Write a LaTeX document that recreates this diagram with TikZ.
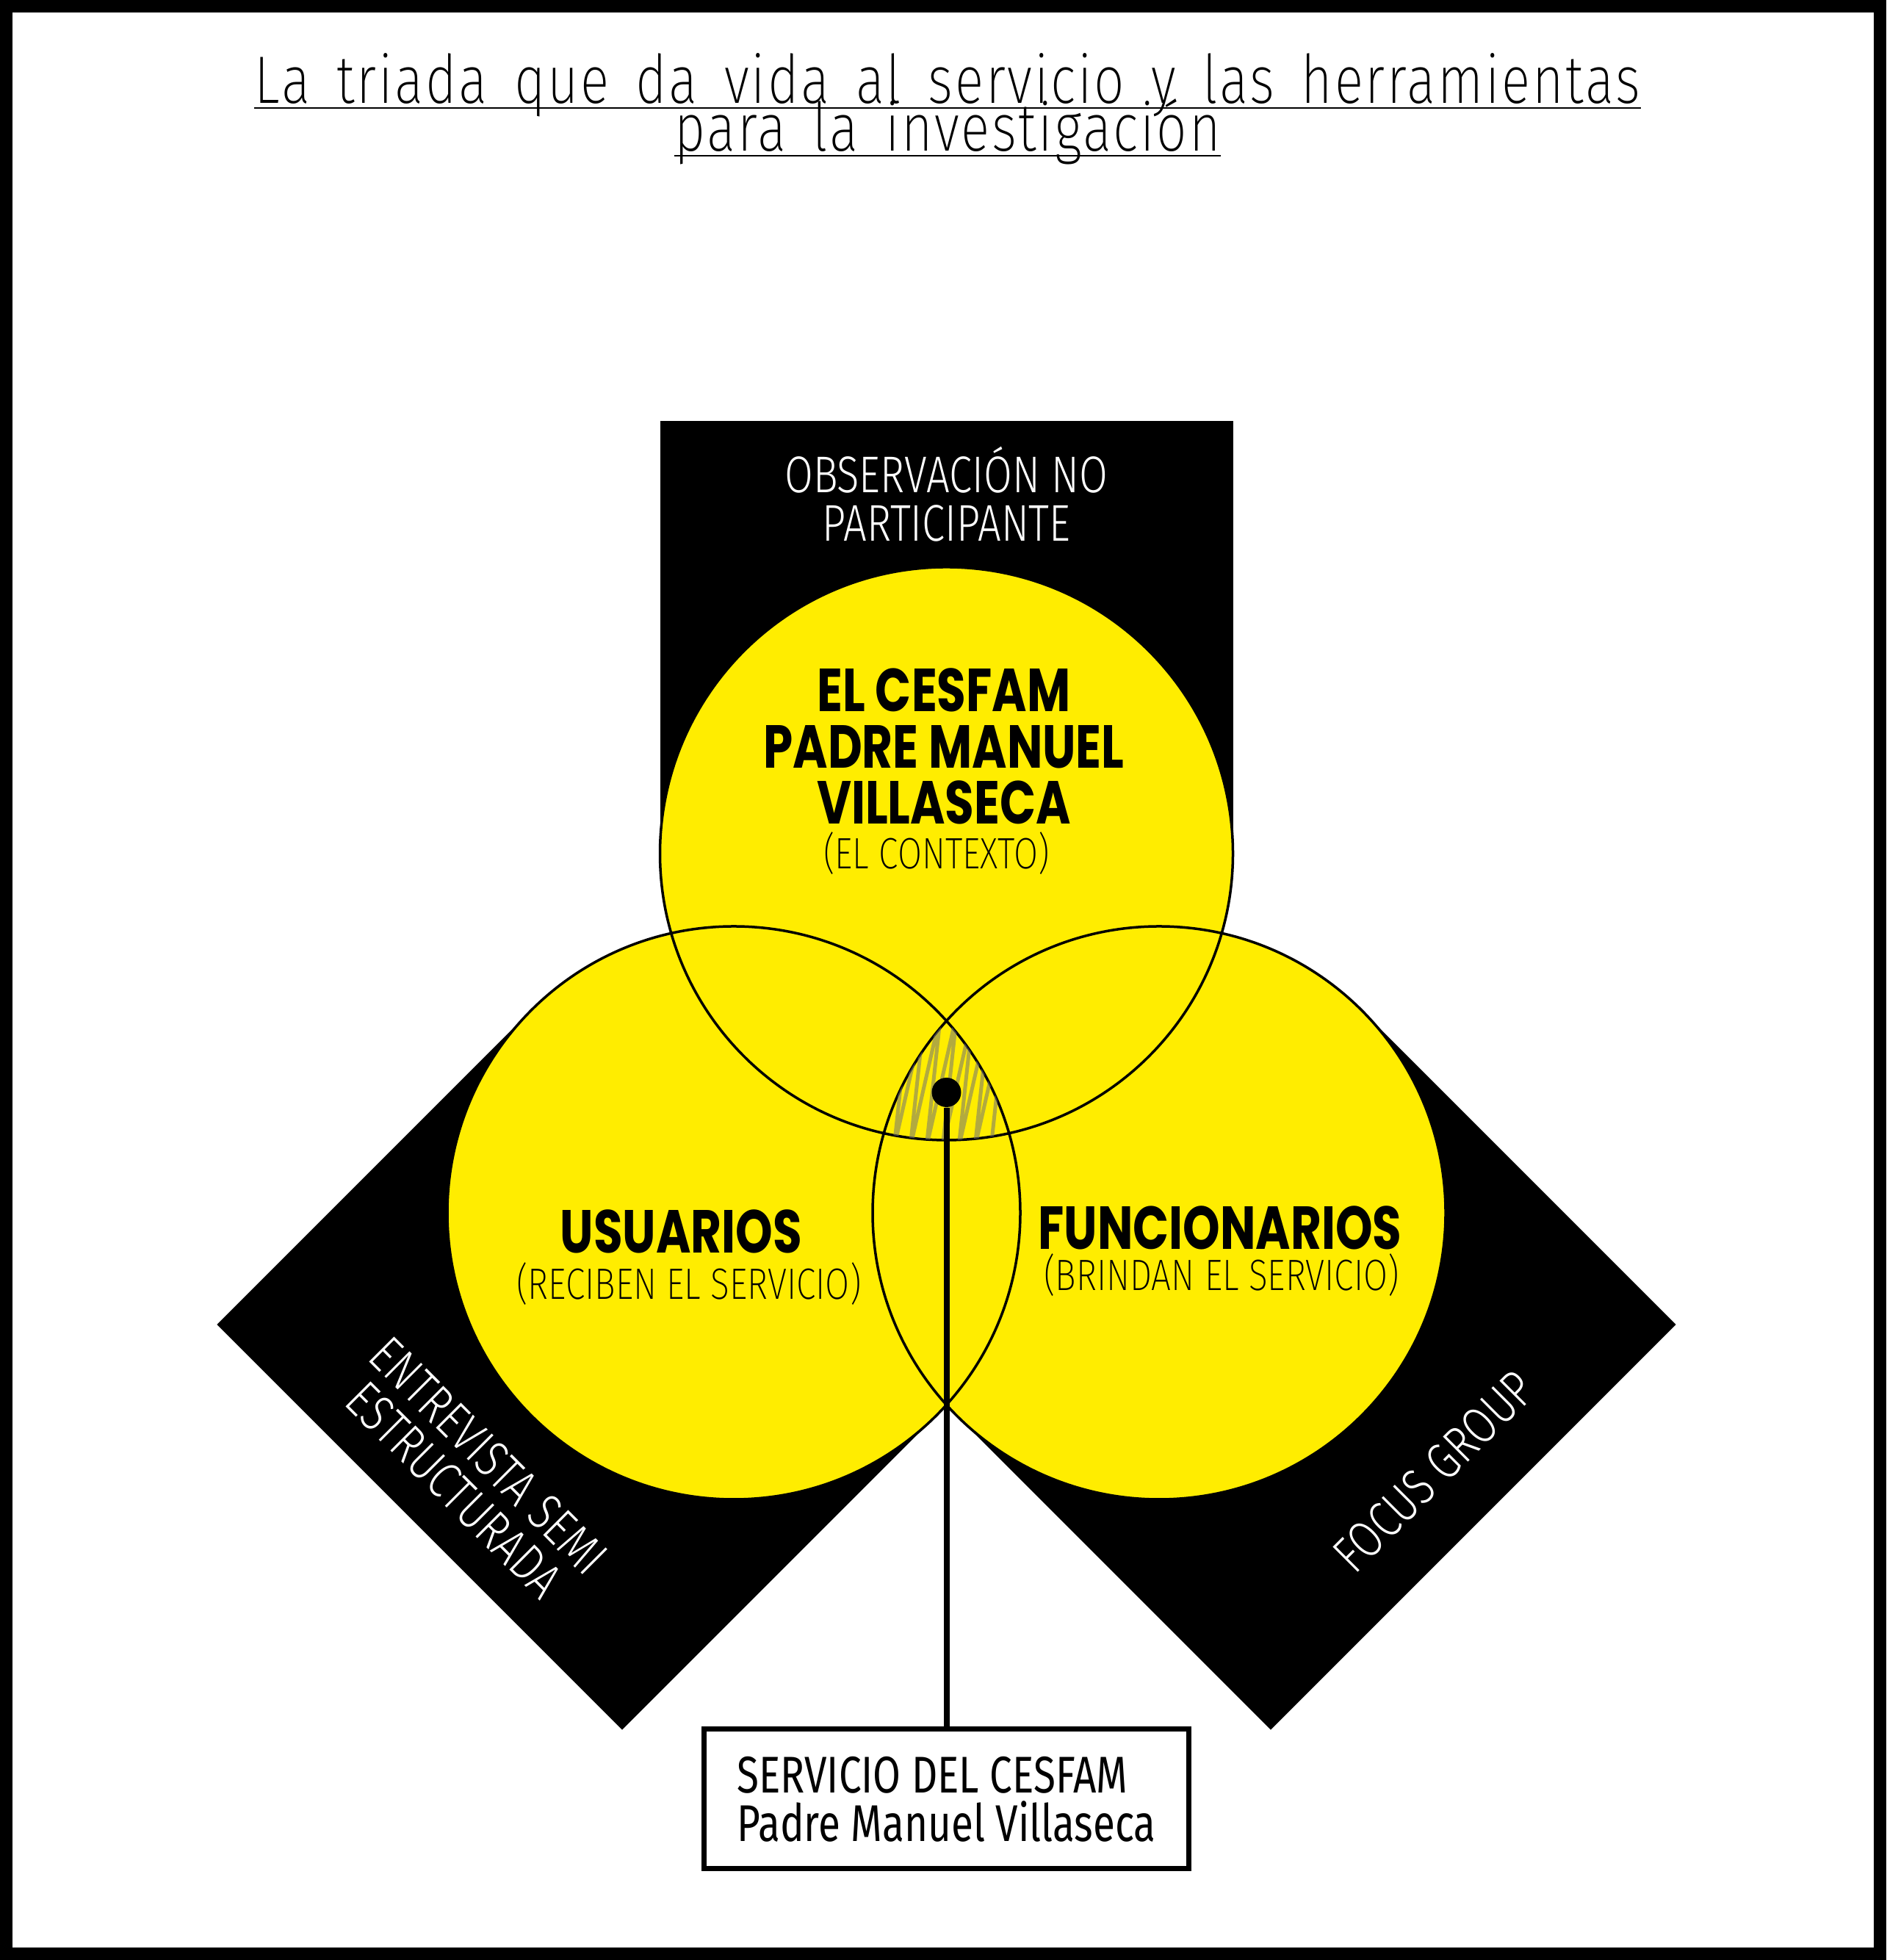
\documentclass[tikz,border=0pt]{standalone}
\usepackage{fontspec}
\setmainfont{Fira Sans Light}[FakeStretch=0.8]
\newfontfamily\titlefont{Fira Sans ExtraLight}[FakeStretch=0.8, LetterSpace=3, WordSpace=1.55]
\newfontfamily\subfont{Fira Sans ExtraLight}[FakeStretch=0.8]
\newfontfamily\heavyfont{Poppins}[FakeStretch=0.78]
\newfontfamily\boxfont{Fira Sans}[FakeStretch=0.78]
\usetikzlibrary{positioning}
\definecolor{vennyellow}{RGB}{255,237,0}

\begin{document}
\begin{tikzpicture}[
  heavy/.style={font=\heavyfont\bfseries\fontsize{23.5}{21.8}\selectfont, align=center},
  thin/.style={font=\subfont\fontsize{17}{18}\selectfont, align=center},
  tool/.style={text=white, font=\fontsize{20}{18.8}\selectfont, align=center},
  dot/.style={circle, fill=black, inner sep=0pt, minimum size=0.4cm},
  stem/.style={line width=0.08cm},
  servbox/.style={draw, line width=0.07cm, fill=white, minimum width=6.6cm, minimum height=1.9cm, align=left, font=\boxfont\fontsize{20}{18.8}\selectfont},
  scribble/.style={black!55, opacity=0.55, line width=0.05cm, rounded corners=0.08cm}
]
\def\R{3.9}
\useasboundingbox (0,0) rectangle (25.68,26.68);

% Frame
\draw[line width=0.17cm] (0.085,0.085) rectangle (25.595,26.595);

% Title
\node[anchor=base, inner sep=0, font=\titlefont\fontsize{26}{26}\selectfont] (title1) at (12.90,25.27) {La triada que da vida al servicio y las herramientas};
\node[anchor=base, inner sep=0, font=\titlefont\fontsize{26}{26}\selectfont] (title2) at (12.90,24.62) {para la investigación};
\draw[line width=0.02cm] ([yshift=-0.06cm]title1.base west) -- ([yshift=-0.06cm]title1.base east);
\draw[line width=0.02cm] ([yshift=-0.06cm]title2.base west) -- ([yshift=-0.06cm]title2.base east);

% Centres of the three circles
\coordinate (ctx) at (12.885,15.06);
\coordinate (usr) at (9.99,10.17);
\coordinate (fun) at (15.78,10.17);

% Black bands behind the circles
\fill[black] (ctx) ++(-\R,0) rectangle ++(2*\R,5.89);
\begin{scope}[shift={(usr)}, rotate=135]
  \fill[black] (-\R,0) rectangle (\R,6.05);
\end{scope}
\begin{scope}[shift={(fun)}, rotate=-135]
  \fill[black] (-\R,0) rectangle (\R,6.05);
\end{scope}

% Circles
\fill[vennyellow] (ctx) circle (\R) (usr) circle (\R) (fun) circle (\R);
\draw[line width=0.035cm] (ctx) circle (\R) (usr) circle (\R) (fun) circle (\R);

% Scribble in the middle
\begin{scope}
  \clip (ctx) circle (\R);
  \clip (usr) circle (\R);
  \clip (fun) circle (\R);
  \draw[scribble] (11.95,11.05) \foreach \k in {1,...,7} { -- ++(0.42,1.85) -- ++(-0.2,-1.85) };
\end{scope}

% Labels
\node[tool] (observe) at (12.885,19.95) {OBSERVACIÓN NO\\PARTICIPANTE};
\node[heavy] (cesfam) at (12.85,16.52) {EL CESFAM\\PADRE MANUEL\\VILLASECA};
\node[thin] (context) at (12.75,15.06) {(EL CONTEXTO)};
\node[heavy] (users) at (9.275,9.92) {USUARIOS};
\node[thin] (usersub) at (9.38,9.20) {(RECIBEN EL SERVICIO)};
\node[heavy] (staff) at (16.61,9.97) {FUNCIONARIOS};
\node[thin] (staffsub) at (16.63,9.32) {(BRINDAN EL SERVICIO)};
\node[tool, rotate=-45] (interview) at (6.42,6.63) {ENTREVISTA SEMI\\ESTRUCTURADA};
\node[tool, rotate=45] (focus) at (19.52,6.65) {FOCUS GROUP};

% Service box
\node[dot] (hub) at (12.885,11.81) {};
\node[servbox] (serv) at (12.885,2.19) {SERVICIO DEL CESFAM\\Padre Manuel Villaseca};
\draw[stem] (hub) -- (serv);

\end{tikzpicture}
\end{document}
